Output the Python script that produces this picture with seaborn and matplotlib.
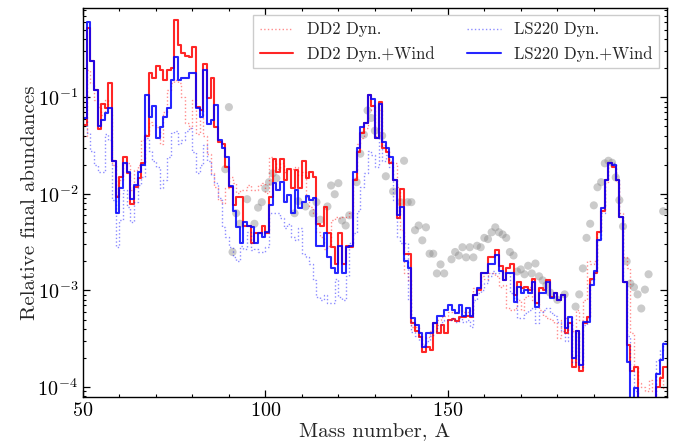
import matplotlib

matplotlib.use("Agg")
import matplotlib.pyplot as plt
import numpy as np
import pandas as pd
import seaborn as sns
from matplotlib.ticker import FixedLocator

# Mass numbers of the first bin; every series has one value per A (bin [A, A+1))
first_mass = 50

# LS220 Dyn.+Wind (blue solid), A = 50..209
ls220_wind = [
    0.061, 0.60, 0.24, 0.12, 0.050, 0.058, 0.068, 0.077, 0.022, 0.0064,
    0.0114, 0.021, 0.0167, 0.0088, 0.0122, 0.0167, 0.020, 0.105, 0.062, 0.081,
    0.038, 0.049, 0.062, 0.077, 0.15, 0.26, 0.15, 0.16, 0.16, 0.18,
    0.18, 0.077, 0.062, 0.19, 0.053, 0.058, 0.083, 0.036, 0.030, 0.024,
    0.012, 0.0067, 0.0045, 0.0031, 0.0051, 0.0047, 0.0045, 0.0031, 0.0039, 0.0036,
    0.0040, 0.0076, 0.0128, 0.0109, 0.0132, 0.0082, 0.0097, 0.0063, 0.0109, 0.0071,
    0.0082, 0.0094, 0.0086, 0.0090, 0.0029, 0.0029, 0.0039, 0.0022, 0.0017, 0.0015,
    0.0029, 0.0015, 0.0028, 0.0029, 0.0167, 0.030, 0.049, 0.054, 0.105, 0.095,
    0.038, 0.085, 0.034, 0.030, 0.024, 0.0138, 0.0060, 0.0073, 0.0020, 0.0017,
    0.00052, 0.00044, 0.00036, 0.00026, 0.00036, 0.00036, 0.00046, 0.00054, 0.00055, 0.00062,
    0.00071, 0.00062, 0.00058, 0.00071, 0.00055, 0.00066, 0.00055, 0.00089, 0.00105, 0.0015,
    0.0015, 0.0019, 0.0019, 0.0023, 0.0016, 0.00127, 0.0015, 0.0015, 0.00076, 0.00108,
    0.00095, 0.00100, 0.00095, 0.00121, 0.00068, 0.00095, 0.00095, 0.00121, 0.00083, 0.00093,
    0.00079, 0.00089, 0.00041, 0.00053, 0.00020, 0.00038, 0.00017, 0.00047, 0.00047, 0.00113,
    0.0016, 0.0033, 0.0071, 0.0138, 0.021, 0.020, 0.0138, 0.0057, 0.00121, 0.00018,
    0.00005, 0.000098, 0.00005, 0.00005, 0.00005, 0.00005, 0.00005, 0.000138, 0.00019, 0.00028,
]

# DD2 Dyn.+Wind (red solid)
dd2_wind = [
    0.051, 0.52, 0.24, 0.12, 0.047, 0.085, 0.077, 0.14, 0.022, 0.0092,
    0.0148, 0.024, 0.0163, 0.0078, 0.0117, 0.0145, 0.021, 0.040, 0.18, 0.16,
    0.21, 0.19, 0.15, 0.19, 0.20, 0.63, 0.35, 0.29, 0.27, 0.26,
    0.33, 0.079, 0.073, 0.22, 0.098, 0.16, 0.049, 0.034, 0.033, 0.019,
    0.0117, 0.0076, 0.0092, 0.0092, 0.0047, 0.0046, 0.0031, 0.0039, 0.0039, 0.0047,
    0.0039, 0.0092, 0.023, 0.0167, 0.023, 0.0138, 0.018, 0.0114, 0.0175, 0.0114,
    0.022, 0.0145, 0.0167, 0.0148, 0.0049, 0.0047, 0.0073, 0.0039, 0.0028, 0.0019,
    0.0039, 0.0019, 0.0029, 0.0028, 0.0138, 0.027, 0.043, 0.054, 0.105, 0.081,
    0.038, 0.090, 0.030, 0.027, 0.021, 0.0138, 0.0056, 0.0111, 0.0024, 0.0024,
    0.00046, 0.00038, 0.00033, 0.00023, 0.00026, 0.00024, 0.00046, 0.00036, 0.00044, 0.00036,
    0.00049, 0.00051, 0.00048, 0.00053, 0.00053, 0.00055, 0.00053, 0.00089, 0.00100, 0.0015,
    0.0015, 0.0022, 0.0022, 0.0026, 0.0018, 0.00127, 0.0017, 0.0019, 0.00089, 0.00121,
    0.00105, 0.00108, 0.00102, 0.00130, 0.00074, 0.00105, 0.00100, 0.00127, 0.00085, 0.00093,
    0.00079, 0.00089, 0.00036, 0.00046, 0.00016, 0.00038, 0.000145, 0.00046, 0.00053, 0.0013,
    0.0015, 0.0040, 0.0067, 0.0138, 0.021, 0.019, 0.0138, 0.0057, 0.00121, 0.00027,
    0.000148, 0.00016, 0.00005, 0.00005, 0.00005, 0.00005, 0.00005, 0.0001, 0.000125, 0.00016,
]

# DD2 Dyn. (light red dotted)
dd2_dyn = [
    0.040, 0.19, 0.14, 0.093, 0.079, 0.065, 0.093, 0.070, 0.020, 0.0097,
    0.0138, 0.021, 0.021, 0.0109, 0.0175, 0.020, 0.036, 0.042, 0.056, 0.051,
    0.049, 0.033, 0.070, 0.12, 0.14, 0.15, 0.14, 0.10, 0.054, 0.048,
    0.093, 0.042, 0.073, 0.040, 0.026, 0.0163, 0.0117, 0.0086, 0.0080, 0.0114,
    0.0148, 0.0128, 0.0101, 0.0109, 0.0109, 0.0122, 0.0109, 0.0109, 0.0122, 0.0128,
    0.0101, 0.024, 0.022, 0.018, 0.021, 0.0167, 0.018, 0.018, 0.019, 0.0155,
    0.0167, 0.0092, 0.0073, 0.0064, 0.0040, 0.0036, 0.0027, 0.0029, 0.0053, 0.0057,
    0.0056, 0.0057, 0.0057, 0.0063, 0.0145, 0.033, 0.038, 0.048, 0.073, 0.083,
    0.040, 0.073, 0.032, 0.028, 0.022, 0.021, 0.0117, 0.0042, 0.0015, 0.00127,
    0.00042, 0.00042, 0.00034, 0.00028, 0.00033, 0.00038, 0.00046, 0.00049, 0.00053, 0.00055,
    0.00060, 0.00058, 0.00060, 0.00062, 0.00060, 0.00060, 0.00062, 0.00105, 0.00105, 0.0014,
    0.0013, 0.0015, 0.0015, 0.0014, 0.00108, 0.00113, 0.00066, 0.00062, 0.00066, 0.00079,
    0.00062, 0.00085, 0.00108, 0.00079, 0.00074, 0.00062, 0.00055, 0.00052, 0.00049, 0.00046,
    0.00032, 0.00049, 0.00052, 0.00053, 0.00038, 0.00062, 0.00049, 0.00079, 0.0020, 0.0019,
    0.0020, 0.0040, 0.0073, 0.0132, 0.021, 0.020, 0.0132, 0.0063, 0.0022, 0.0017,
    0.00036, 0.00016, 0.00011, 0.0001, 0.00009, 0.000117, 0.00009, 0.00014, 0.000117, 0.000098,
]

# LS220 Dyn. (light blue dotted)
ls220_dyn = [
    0.061, 0.043, 0.028, 0.020, 0.0167, 0.0167, 0.042, 0.036, 0.0086, 0.0028,
    0.0053, 0.0109, 0.0073, 0.0051, 0.0082, 0.0122, 0.0148, 0.038, 0.028, 0.022,
    0.019, 0.0114, 0.0138, 0.024, 0.043, 0.045, 0.033, 0.036, 0.045, 0.048,
    0.027, 0.0163, 0.020, 0.032, 0.022, 0.0155, 0.0128, 0.0090, 0.0045, 0.0036,
    0.0028, 0.0022, 0.0020, 0.0029, 0.0027, 0.0040, 0.0026, 0.0027, 0.0025, 0.0025,
    0.0028, 0.0063, 0.0063, 0.0063, 0.0056, 0.0044, 0.0049, 0.0036, 0.0033, 0.0044,
    0.0024, 0.0022, 0.0019, 0.00127, 0.00085, 0.00079, 0.00089, 0.00074, 0.00074, 0.0013,
    0.00085, 0.00079, 0.0014, 0.0031, 0.0039, 0.0067, 0.0117, 0.0163, 0.028, 0.025,
    0.019, 0.038, 0.022, 0.025, 0.019, 0.0086, 0.0036, 0.0031, 0.0031, 0.00079,
    0.00037, 0.00034, 0.00030, 0.00027, 0.00030, 0.00034, 0.00038, 0.00044, 0.00047, 0.00049,
    0.00049, 0.00052, 0.00047, 0.00052, 0.00047, 0.00049, 0.00042, 0.00079, 0.00093, 0.00100,
    0.00118, 0.0014, 0.0016, 0.0015, 0.0016, 0.0015, 0.0015, 0.00095, 0.00083, 0.00052,
    0.00052, 0.00058, 0.00062, 0.00066, 0.00046, 0.00060, 0.00062, 0.00066, 0.00058, 0.00055,
    0.00047, 0.00038, 0.00030, 0.00047, 0.00018, 0.00036, 0.00016, 0.00044, 0.00052, 0.00127,
    0.0015, 0.0033, 0.0064, 0.0138, 0.021, 0.021, 0.0138, 0.0057, 0.00121, 0.00034,
    0.000148, 0.000092, 0.00005, 0.00005, 0.00005, 0.00005, 0.00005, 0.00019, 0.00024, 0.00030,
]

# Scaled solar r-process abundances (grey dots)
solar_mass = [
    89, 90, 91, 92, 93, 95, 97, 98, 99, 100, 101, 102, 103, 108, 109, 111, 113,
    114, 115, 117, 118, 119, 120, 121, 122, 123, 125, 126, 127, 128, 129, 130,
    132, 133, 135, 137, 138, 139, 140, 141, 142, 143, 144, 145, 146, 147, 148,
    149, 151, 152, 153, 154, 155, 156, 157, 158, 159, 160, 161, 162, 163, 164,
    165, 166, 167, 168, 169, 170, 171, 172, 173, 174, 175, 176, 177, 178, 180,
    182, 185, 186, 187, 188, 189, 190, 191, 192, 193, 194, 195, 196, 197, 198,
    199, 200, 201, 202, 203, 204, 205, 209,
]
solar_abund = [
    0.018, 0.079, 0.0025, 0.0063, 0.0049, 0.0088, 0.0049, 0.0072, 0.0082, 0.0114,
    0.0132, 0.0163, 0.0145, 0.0063, 0.0084, 0.0074, 0.0063, 0.0082, 0.0054, 0.0074,
    0.0122, 0.0099, 0.0129, 0.0053, 0.0047, 0.0060, 0.0132, 0.026, 0.041, 0.073,
    0.061, 0.045, 0.040, 0.0152, 0.0106, 0.0082, 0.022, 0.0082, 0.0082, 0.0042,
    0.0047, 0.0033, 0.0045, 0.0024, 0.0024, 0.0015, 0.00186, 0.0015, 0.0021, 0.0025,
    0.0023, 0.0028, 0.0022, 0.0028, 0.0022, 0.0029, 0.0028, 0.0035, 0.0034, 0.0040,
    0.0045, 0.0040, 0.0038, 0.0035, 0.0025, 0.0023, 0.00157, 0.00165, 0.00147, 0.0018,
    0.0015, 0.0019, 0.0014, 0.00127, 0.00113, 0.00095, 0.0008, 0.00091, 0.00068, 0.00091,
    0.00169, 0.0035, 0.0049, 0.0076, 0.0117, 0.0132, 0.0207, 0.022, 0.021, 0.0148,
    0.0086, 0.0046, 0.0020, 0.00118, 0.00108, 0.00091, 0.00065, 0.00102, 0.00147, 0.0066,
]

# x ticks: only 50/100/150 are labelled, minor ticks every 10 up to 190
major_ticks = [50, 100, 150]
minor_ticks = [60, 70, 80, 90, 110, 120, 130, 140, 160, 170, 180, 190]


def step_frame(values):
    # one extra edge so the last bin is drawn to its right edge
    mass = np.arange(first_mass, first_mass + len(values) + 1)
    return pd.DataFrame({"A": mass, "Y": list(values) + [values[-1]]})


sns.set_theme(style="ticks")
plt.rcParams["font.family"] = ["cmr10"]
plt.rcParams["mathtext.fontset"] = "cm"
plt.rcParams["axes.formatter.use_mathtext"] = True
plt.rcParams["axes.unicode_minus"] = False

fig, ax = plt.subplots(figsize=(6.91, 4.42), dpi=100)
fig.subplots_adjust(left=0.120, right=0.965, bottom=0.102, top=0.982)

solar = pd.DataFrame({"A": solar_mass, "Y": solar_abund})
sns.scatterplot(
    data=solar, x="A", y="Y", color="#8c8c8c", alpha=0.45, s=34,
    edgecolor="none", zorder=1, ax=ax,
)

series = [
    (dd2_dyn, "DD2 Dyn.", "#ff0000", ":", 1.0, 0.45),
    (dd2_wind, "DD2 Dyn.+Wind", "#ff0000", "-", 1.5, 0.85),
    (ls220_dyn, "LS220 Dyn.", "#0000ff", ":", 1.0, 0.45),
    (ls220_wind, "LS220 Dyn.+Wind", "#0000ff", "-", 1.5, 0.85),
]
for values, label, color, ls, lw, alpha in series:
    sns.lineplot(
        data=step_frame(values), x="A", y="Y", drawstyle="steps-post",
        color=color, linestyle=ls, linewidth=lw, alpha=alpha,
        estimator=None, label=label, zorder=2, ax=ax,
    )

ax.set_yscale("log")
ax.set_xlim(50, 210)
ax.set_ylim(7.9e-5, 0.84)

ax.xaxis.set_major_locator(FixedLocator(major_ticks))
ax.xaxis.set_minor_locator(FixedLocator(minor_ticks))
ax.tick_params(which="both", direction="in", top=True, right=True,
               labelsize=14.5, colors="black")
ax.tick_params(which="major", length=5, width=0.9)
ax.tick_params(which="minor", length=2.5, width=0.8)
for spine in ax.spines.values():
    spine.set_color("black")
    spine.set_linewidth(1.0)

ax.set_xlabel("Mass number, A", fontsize=15, labelpad=2)
ax.set_ylabel("Relative final abundances", fontsize=15, labelpad=-1)

leg = ax.legend(loc="upper right", ncol=2, fontsize=12, frameon=True,
                fancybox=False, edgecolor="#cccccc", framealpha=1.0,
                borderaxespad=0.45)
leg.get_frame().set_linewidth(1.0)

fig.savefig("out.png", dpi=100)
plt.close(fig)
